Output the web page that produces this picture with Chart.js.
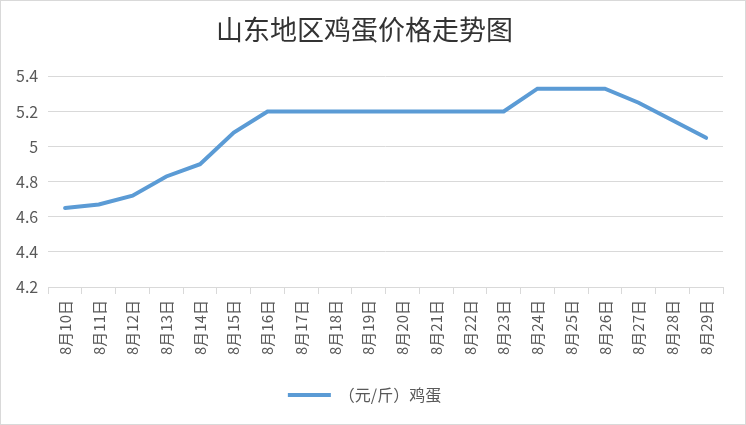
<!DOCTYPE html>
<html>
<head>
<meta charset="utf-8">
<script src="https://cdn.jsdelivr.net/npm/chart.js@4"></script>
<style>
  html, body { margin: 0; padding: 0; background: #fff; }
  #wrap { position: relative; width: 744px; height: 423px; border: 1px solid #d9d9d9; }
</style>
</head>
<body>
<div id="wrap"><canvas id="eggChart"></canvas></div>
<script>
// categories
const dates = ['8月10日', '8月11日', '8月12日', '8月13日', '8月14日', '8月15日', '8月16日',
  '8月17日', '8月18日', '8月19日', '8月20日', '8月21日', '8月22日', '8月23日',
  '8月24日', '8月25日', '8月26日', '8月27日', '8月28日', '8月29日'];

// price, yuan per jin
const eggPrice = [4.65, 4.67, 4.72, 4.83, 4.90, 5.08, 5.20,
  5.20, 5.20, 5.20, 5.20, 5.20, 5.20, 5.20,
  5.33, 5.33, 5.33, 5.25, 5.15, 5.05];

const seriesName = '（元/斤）鸡蛋';
const chartTitle = '山东地区鸡蛋价格走势图';

const fontFamily = '"Noto Sans CJK SC", "Noto Sans", sans-serif';

new Chart('eggChart', {
  type: 'line',
  data: {
    labels: dates,
    datasets: [{
      label: seriesName,
      data: eggPrice,
      borderColor: '#5b9bd5',
      backgroundColor: '#5b9bd5',
      borderWidth: 4,
      pointRadius: 0,
      pointHoverRadius: 0,
      tension: 0,
      borderCapStyle: 'round',
      pointStyle: 'line'
    }]
  },
  options: {
    responsive: true,
    maintainAspectRatio: false,
    animation: false,
    layout: { padding: { left: 5, right: 22, top: 5, bottom: 11 } },
    plugins: {
      title: {
        display: true,
        text: chartTitle,
        color: '#333333',
        font: { family: fontFamily, size: 27, weight: 'normal' },
        padding: { top: 8, bottom: 30 }
      },
      legend: {
        position: 'bottom',
        labels: {
          usePointStyle: true,
          pointStyle: 'line',
          pointStyleWidth: 43,
          color: '#595959',
          font: { family: fontFamily, size: 16 },
          padding: 26
        }
      },
      tooltip: { enabled: false }
    },
    scales: {
      x: {
        offset: true,
        grid: {
          offset: true,
          drawOnChartArea: false,
          drawTicks: true,
          tickLength: 7,
          color: '#d9d9d9'
        },
        border: { color: '#d9d9d9' },
        ticks: {
          minRotation: 90,
          maxRotation: 90,
          autoSkip: false,
          padding: 6,
          color: '#595959',
          font: { family: fontFamily, size: 15 }
        }
      },
      y: {
        min: 4.2,
        max: 5.4,
        grid: { color: '#d9d9d9', drawTicks: false },
        border: { display: false },
        ticks: {
          stepSize: 0.2,
          padding: 10,
          color: '#595959',
          font: { family: fontFamily, size: 16 },
          callback: v => String(parseFloat(v.toFixed(1)))
        }
      }
    }
  }
});
</script>
</body>
</html>
